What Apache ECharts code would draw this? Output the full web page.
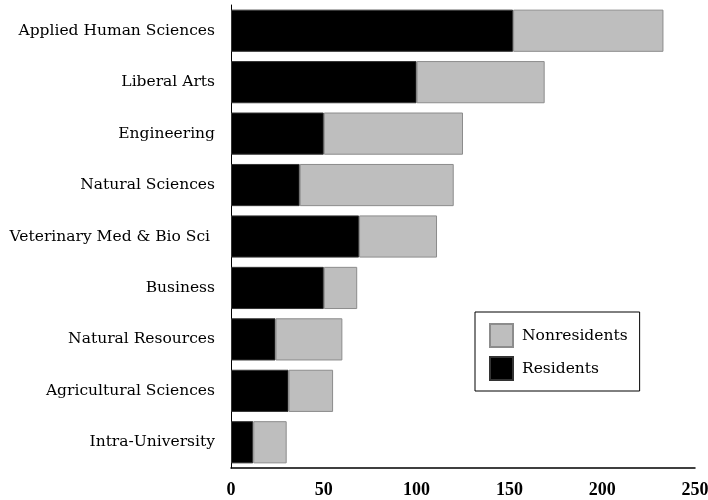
<!DOCTYPE html>
<html>
<head>
<meta charset="utf-8">
<script src="https://cdn.jsdelivr.net/npm/echarts@6/dist/echarts.min.js"></script>
<style>
  html, body { margin: 0; padding: 0; background: #fff; }
  #chart { width: 708px; height: 500px; }
</style>
</head>
<body>
<div id="chart"></div>
<script>
// colleges, top to bottom
var colleges = [
  'Applied Human Sciences', 'Liberal Arts', 'Engineering', 'Natural Sciences',
  'Veterinary Med & Bio Sci ', 'Business', 'Natural Resources',
  'Agricultural Sciences', 'Intra-University'
];
var residents = [152, 100, 50, 37, 69, 50, 24, 31, 12];
var nonresidents = [81, 69, 75, 83, 42, 18, 36, 24, 18];
var xTicks = [0, 50, 100, 150, 200, 250];

var chart = echarts.init(document.getElementById('chart'));

var option = {
  animation: false,
  grid: { left: 231, right: 13, top: 5, bottom: 32, outerBoundsMode: 'none' },
  legend: {
    orient: 'vertical',
    left: 475,
    top: 312,
    data: ['Nonresidents', 'Residents'],
    itemWidth: 23,
    itemHeight: 23,
    itemGap: 8,
    padding: [11, 12, 10, 14],
    borderColor: '#000',
    borderWidth: 1,
    icon: 'rect',
    textStyle: { fontFamily: 'DejaVu Serif', fontSize: 15.5, color: '#000', padding: [0, 0, 0, 4] }
  },
  xAxis: {
    type: 'value',
    min: 0,
    max: 250,
    interval: 50,
    axisLine: { show: true, lineStyle: { color: '#000', width: 1.5 } },
    axisTick: { show: false },
    splitLine: { show: false },
    axisLabel: {
      margin: 13,
      fontFamily: 'Liberation Serif',
      fontWeight: 'bold',
      fontSize: 18,
      color: '#000',
      formatter: function (v) { return xTicks.indexOf(v) >= 0 ? String(v) : ''; }
    }
  },
  yAxis: {
    type: 'category',
    inverse: true,
    data: colleges,
    axisLine: { show: true, lineStyle: { color: '#000', width: 1 } },
    axisTick: { show: false },
    axisLabel: {
      margin: 16,
      fontFamily: 'DejaVu Serif',
      fontSize: 15.5,
      color: '#000'
    }
  },
  series: [
    {
      name: 'Residents',
      type: 'bar',
      stack: 'total',
      barCategoryGap: '18%',
      data: residents,
      itemStyle: { color: '#000', borderColor: '#333', borderWidth: 1 }
    },
    {
      name: 'Nonresidents',
      type: 'bar',
      stack: 'total',
      barCategoryGap: '18%',
      data: nonresidents,
      itemStyle: { color: '#bebebe', borderColor: '#8c8c8c', borderWidth: 1 }
    }
  ]
};

chart.setOption(option);
</script>
</body>
</html>
